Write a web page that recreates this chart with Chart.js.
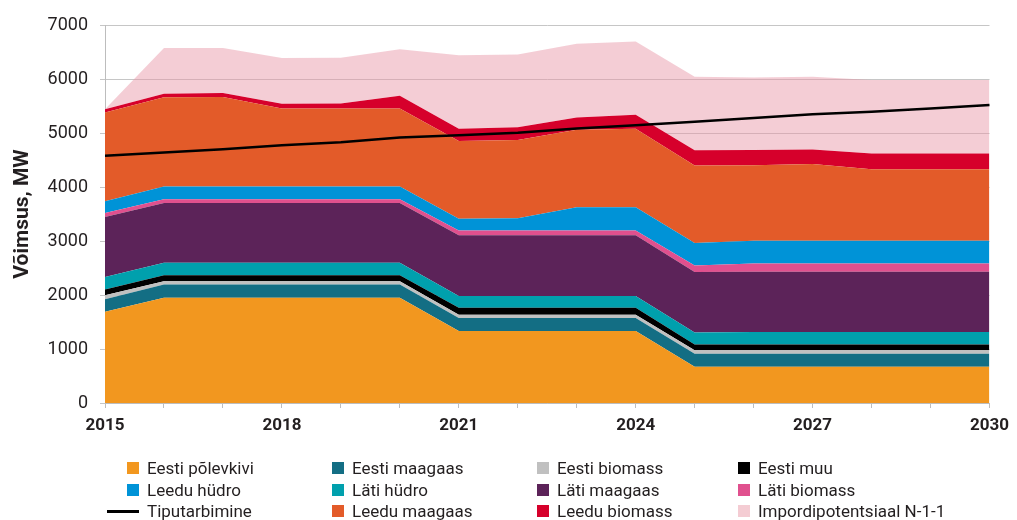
<!DOCTYPE html>
<html lang="et">
<head>
<meta charset="utf-8">
<title>Võimsus, MW</title>
<script src="https://cdn.jsdelivr.net/npm/chart.js@4.4.1/dist/chart.umd.min.js"></script>
<style>
  html, body { margin: 0; padding: 0; background: #fff; }
  #wrap { position: relative; width: 1017px; height: 520px; }
  #legend {
    position: absolute; left: 107px; top: 457px;
    display: grid; grid-template-columns: 205px 205px 201px 240px;
    grid-auto-rows: 21.7px;
    font-family: 'Roboto', sans-serif;
    font-size: 17px; color: #231f20;
  }
  #legend .item { display: flex; align-items: center; white-space: nowrap; }
  #legend .mark { width: 32px; display: flex; justify-content: flex-end; margin-right: 8px; }
  #legend .box { width: 12px; height: 12px; }
  #legend .line { width: 32px; height: 3px; background: #000; }
</style>
</head>
<body>
<div id="wrap">
  <canvas id="chart"></canvas>
  <div id="legend"></div>
</div>
<script>
const years = ['2015','2016','2017','2018','2019','2020','2021','2022','2023','2024','2025','2026','2027','2028','2029','2030'];

// stacked layers, bottom to top (MW)
const eestiPolevkivi = [1690,1950,1950,1950,1950,1950,1335,1335,1335,1335,670,670,670,670,670,670];
const eestiMaagaas   = [230,245,245,245,245,245,240,240,240,240,240,240,240,240,240,240];
const eestiBiomass   = [75,60,60,60,60,60,60,60,60,60,65,65,65,65,65,65];
const eestiMuu       = [105,110,110,110,110,110,130,130,130,130,110,110,110,110,110,110];
const latiHudro      = [235,230,230,230,230,230,215,215,215,215,220,230,230,230,230,230];
const latiMaagaas    = [1110,1110,1110,1110,1110,1110,1125,1125,1125,1125,1120,1115,1115,1115,1115,1115];
const latiBiomass    = [75,70,70,70,70,70,90,90,90,90,120,155,155,155,155,155];
const leeduHudro     = [215,235,235,235,235,235,215,225,430,430,420,420,420,420,420,420];
const leeduMaagaas   = [1645,1650,1655,1445,1445,1445,1440,1450,1435,1455,1435,1400,1420,1325,1325,1325];
const leeduBiomass   = [60,65,75,85,90,235,230,235,225,260,280,280,270,290,290,290];
const import_        = [0,850,835,850,850,860,1360,1350,1370,1355,1360,1345,1345,1360,1360,1360];

// peak demand line
const tiputarbimine  = [4580,4640,4700,4775,4830,4915,4960,5005,5085,5145,5210,5280,5345,5395,5455,5520];

const textColor = '#231f20';

function area(label, data, color, fill, legendColor) {
  return {
    label: label,
    data: data,
    backgroundColor: color,
    borderColor: color,
    borderWidth: 0,
    pointRadius: 0,
    pointHoverRadius: 0,
    tension: 0,
    stack: 'power',
    fill: fill,
    legendColor: legendColor || color
  };
}

// line first so it is painted on top of the areas
const datasets = [
  {
    label: 'Tiputarbimine',
    data: tiputarbimine,
    borderColor: '#000',
    backgroundColor: '#000',
    borderWidth: 2.5,
    pointRadius: 0,
    tension: 0,
    fill: false,
    stack: 'demand'
  },
  area('Eesti põlevkivi', eestiPolevkivi, '#f2971f', 'origin'),
  area('Eesti maagaas', eestiMaagaas, '#136e84', '-1'),
  area('Eesti biomass', eestiBiomass, '#c0c0c0', '-1'),
  area('Eesti muu', eestiMuu, '#000000', '-1'),
  area('Läti hüdro', latiHudro, '#00a0ad', '-1'),
  area('Läti maagaas', latiMaagaas, '#5c2359', '-1'),
  area('Läti biomass', latiBiomass, '#e0508e', '-1'),
  area('Leedu hüdro', leeduHudro, '#0093d7', '-1'),
  area('Leedu maagaas', leeduMaagaas, '#e35b29', '-1'),
  area('Leedu biomass', leeduBiomass, '#d6002b', '-1'),
  area('Impordipotentsiaal N-1-1', import_, 'rgba(232,150,168,0.48)', '-1', '#f4ccd3')
];

// legend reading order (4 columns)
const legendOrder = [
  'Eesti põlevkivi', 'Eesti maagaas', 'Eesti biomass', 'Eesti muu',
  'Leedu hüdro', 'Läti hüdro', 'Läti maagaas', 'Läti biomass',
  'Tiputarbimine', 'Leedu maagaas', 'Leedu biomass', 'Impordipotentsiaal N-1-1'
];

const ctx = document.getElementById('chart');
const myChart = new Chart(ctx, {
  type: 'line',
  data: { labels: years, datasets: datasets },
  options: {
    responsive: true,
    maintainAspectRatio: false,
    animation: false,
    layout: { padding: { top: 25, right: 22, bottom: 77, left: 2 } },
    plugins: {
      legend: { display: false },
      tooltip: { enabled: false },
      filler: { propagate: false }
    },
    scales: {
      x: {
        stacked: true,
        offset: false,
        grid: { drawOnChartArea: false, drawTicks: true, tickLength: 5, color: '#bdbdbd' },
        border: { color: '#bdbdbd' },
        ticks: {
          autoSkip: false,
          maxRotation: 0,
          padding: 8,
          color: textColor,
          font: { family: 'Roboto', size: 17, weight: 'bold' },
          callback: function(val, idx) { return idx % 3 === 0 ? this.getLabelForValue(val) : ''; }
        },
        afterFit: (scale) => { scale.height = 40; }
      },
      y: {
        stacked: true,
        min: 0,
        max: 7000,
        grid: { color: '#c6c6c6', tickLength: 5 },
        border: { color: '#bdbdbd' },
        ticks: {
          stepSize: 1000,
          padding: 12,
          color: textColor,
          font: { family: 'Roboto', size: 18 },
          callback: (v) => String(v)
        },
        title: {
          display: true,
          text: 'Võimsus, MW',
          color: textColor,
          font: { family: 'Roboto', size: 21, weight: 'bold' },
          padding: { top: 8, bottom: 0 }
        },
        afterFit: (scale) => { scale.width = 103; }
      }
    }
  }
});

// html legend built from the datasets
const legendEl = document.getElementById('legend');
legendOrder.forEach(name => {
  const ds = myChart.data.datasets.find(d => d.label === name);
  const item = document.createElement('div');
  item.className = 'item';
  const mark = document.createElement('span');
  mark.className = 'mark';
  const sw = document.createElement('span');
  if (name === 'Tiputarbimine') {
    sw.className = 'line';
  } else {
    sw.className = 'box';
    sw.style.background = ds.legendColor;
  }
  mark.appendChild(sw);
  const txt = document.createElement('span');
  txt.textContent = ds.label;
  item.appendChild(mark);
  item.appendChild(txt);
  legendEl.appendChild(item);
});
</script>
</body>
</html>
